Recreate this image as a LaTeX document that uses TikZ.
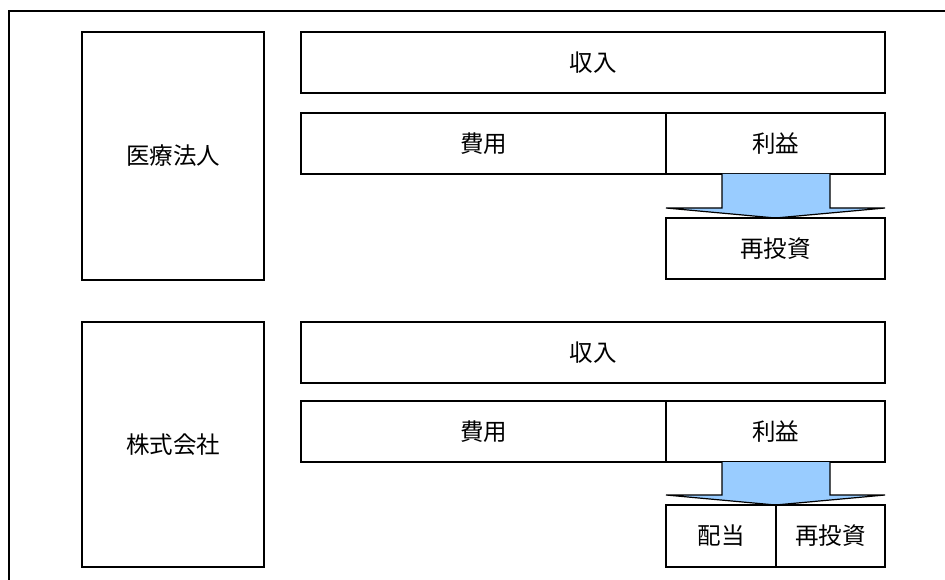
\documentclass[tikz,border=0pt]{standalone}
\usepackage{fontspec}
\newfontfamily\cjk{Noto Sans CJK JP}
\definecolor{arrowblue}{RGB}{153,204,255}
\begin{document}
\begin{tikzpicture}[x=1pt,y=-1pt,
  box/.style={draw=black,line width=1.3pt,fill=white},
  lbl/.style={font=\cjk\fontsize{23.5}{26}\selectfont,inner sep=0pt},
  bigarrow/.style={draw=black,line width=1.2pt,fill=arrowblue}]
\useasboundingbox (0,0) rectangle (945,580);
\clip (0,0) rectangle (945,580);
% outer frame
\draw[line width=1.3pt] (950,11) -- (9,11) -- (9,590);
% ---------- upper group ----------
\draw[box] (82,32) rectangle (264,280);
\node[lbl] (u-name) at (173,156) {医療法人};
\draw[box] (301,32) rectangle (885,93);
\node[lbl] (u-rev) at (593,62.5) {収入};
\draw[box] (301,113) rectangle (666,174);
\node[lbl] (u-cost) at (483.5,143.5) {費用};
\draw[box] (666,113) rectangle (885,174);
\node[lbl] (u-prof) at (775.5,143.5) {利益};
\draw[bigarrow] (722,174) -- (722,208) -- (666,208) -- (775.5,218) -- (885,208) -- (830,208) -- (830,174);
\draw[box] (666,218) rectangle (885,279);
\node[lbl] (u-rein) at (775.5,248.5) {再投資};
% ---------- lower group ----------
\draw[box] (82,322) rectangle (264,567);
\node[lbl] (l-name) at (173,444.5) {株式会社};
\draw[box] (301,322) rectangle (885,383);
\node[lbl] (l-rev) at (593,352.5) {収入};
\draw[box] (301,401) rectangle (666,462);
\node[lbl] (l-cost) at (483.5,431.5) {費用};
\draw[box] (666,401) rectangle (885,462);
\node[lbl] (l-prof) at (775.5,431.5) {利益};
\draw[bigarrow] (722,462) -- (722,495) -- (666,495) -- (775.5,505) -- (885,495) -- (830,495) -- (830,462);
\draw[box] (666,505) rectangle (776,567);
\node[lbl] (l-div) at (721,536) {配当};
\draw[box] (776,505) rectangle (885,567);
\node[lbl] (l-rein) at (830.5,536) {再投資};
\end{tikzpicture}
\end{document}
